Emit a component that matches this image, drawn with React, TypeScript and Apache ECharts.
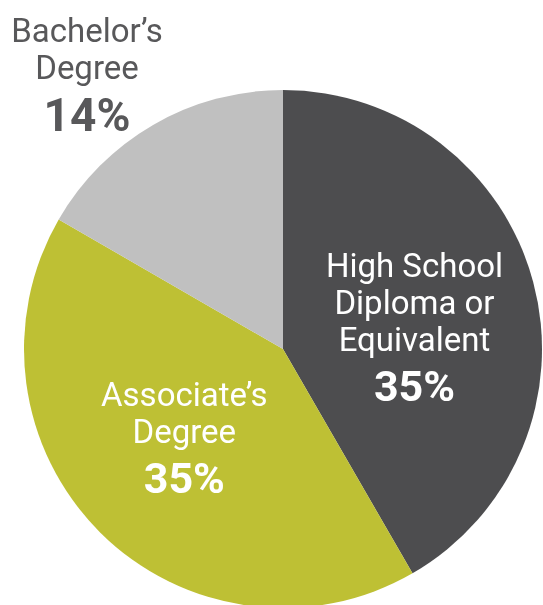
import React, { useEffect, useRef } from "react";
import * as echarts from "echarts";

const categories = ["High School\nDiploma or\nEquivalent", "Associate’s\nDegree", "Bachelor’s\nDegree"];
const values = [35, 35, 14];
const percentLabels = ["35%", "35%", "14%"];
const colors = ["#4d4d4f", "#bec034", "#c0c0c0"];

export default function App() {
  const ref = useRef<HTMLDivElement>(null);
  useEffect(() => {
    if (!ref.current) return;
    const chart = echarts.init(ref.current, null, { renderer: "svg" });
    const font = "Roboto, 'Noto Sans', sans-serif";
    chart.setOption({
      animation: false,
      series: [
        {
          type: "pie",
          center: [283, 349],
          radius: 259,
          startAngle: 90,
          clockwise: true,
          avoidLabelOverlap: false,
          itemStyle: { borderWidth: 0 },
          labelLine: { show: false },
          label: {
            show: true,
            position: "inside",
            formatter: (p: any) => `{n|${categories[p.dataIndex]}}\n{p|${percentLabels[p.dataIndex]}}`,
            rich: {
              n: { fontFamily: font, fontSize: 33, lineHeight: 37, color: "#ffffff", align: "center" },
              p: { fontFamily: font, fontSize: 43, fontWeight: "bold", lineHeight: 56, color: "#ffffff", align: "center" },
            },
          },
          labelLayout: (params: any) => {
            if (params.dataIndex === 2) {
              return { x: 87, y: 78, align: "center", verticalAlign: "middle" };
            }
            if (params.dataIndex === 0) {
              return { dx: 3.5, dy: 16 };
            }
            return { dx: -5, dy: -2 };
          },
          data: values.map((v, i) => ({
            value: v,
            name: categories[i],
            itemStyle: { color: colors[i] },
            label:
              i === 2
                ? {
                    rich: {
                      n: { fontFamily: font, fontSize: 33, lineHeight: 37, color: "#58585a", align: "center" },
                      p: { fontFamily: font, fontSize: 46, fontWeight: "bold", lineHeight: 58, color: "#58585a", align: "center" },
                    },
                  }
                : undefined,
          })),
        },
      ],
    });
    return () => chart.dispose();
  }, []);
  return <div ref={ref} style={{ position: "fixed", left: 0, top: 0, width: 543, height: 605 }} />;
}
